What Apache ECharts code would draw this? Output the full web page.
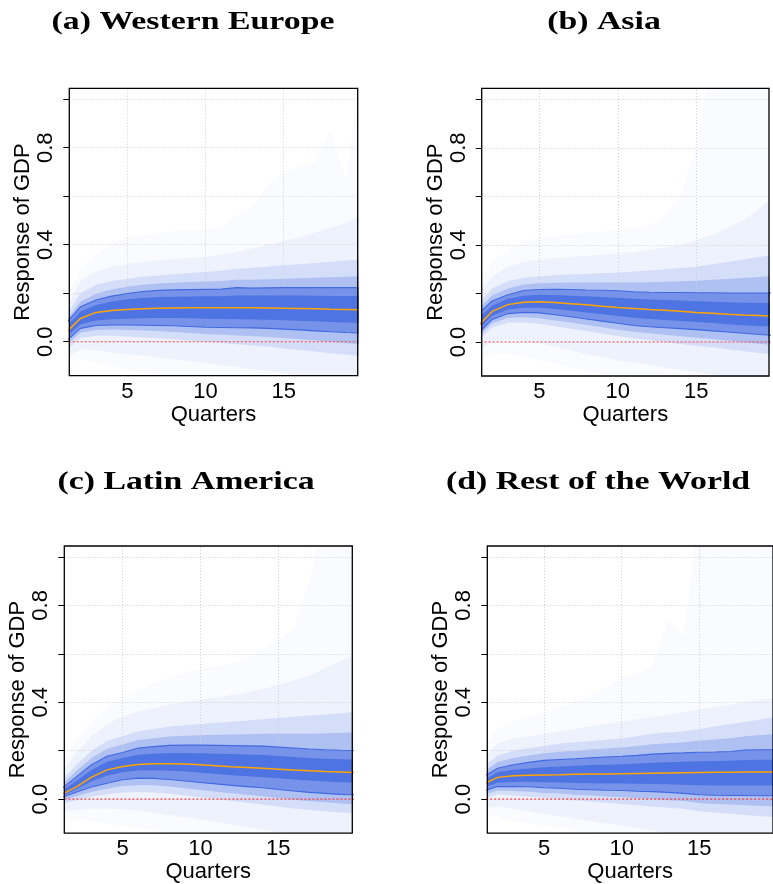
<!DOCTYPE html>
<html><head><meta charset="utf-8">
<script src="https://cdn.jsdelivr.net/npm/echarts@6/dist/echarts.min.js"></script>
<style>html,body{margin:0;padding:0;background:#fff}#c{width:773px;height:884px}</style>
</head><body><div id="c"></div>
<script>
const QUARTERS = [1,2,3,4,5,6,7,8,9,10,11,12,13,14,15,16,17,18,19,20];
const TITLES = ['(a) Western Europe','(b) Asia','(c) Latin America','(d) Rest of the World'];
const X_TICKS = [5,10,15];
const Y_LABELS = [0.0,0.4,0.8];
const Y_TICKS = [0.0,0.2,0.4,0.6,0.8,1.0];
const ZERO = [0,0,0,0,0,0,0,0,0,0,0,0,0,0,0,0,0,0,0,0];

// Western Europe
const A_med = [0.033,0.096,0.121,0.129,0.133,0.136,0.138,0.139,0.140,0.140,0.140,0.140,0.140,0.139,0.138,0.137,0.136,0.134,0.133,0.132];
const A_hi  = [0.070,0.144,0.172,0.188,0.199,0.207,0.212,0.214,0.215,0.216,0.217,0.223,0.221,0.222,0.223,0.223,0.223,0.223,0.223,0.223];
const A_lo  = [-0.003,0.055,0.067,0.069,0.069,0.068,0.067,0.066,0.063,0.060,0.059,0.058,0.057,0.055,0.052,0.049,0.045,0.041,0.038,0.036];
const A_u5  = [0.055,0.125,0.152,0.166,0.175,0.180,0.184,0.186,0.187,0.188,0.188,0.191,0.191,0.191,0.191,0.191,0.190,0.189,0.189,0.189];
const A_l5  = [0.014,0.072,0.088,0.093,0.095,0.097,0.098,0.098,0.097,0.095,0.094,0.093,0.092,0.091,0.089,0.087,0.084,0.081,0.079,0.077];
const A_u4  = [0.08,0.165,0.198,0.215,0.227,0.235,0.24,0.243,0.246,0.248,0.25,0.256,0.256,0.258,0.26,0.262,0.264,0.266,0.268,0.27];
const A_u3  = [0.10,0.20,0.235,0.25,0.26,0.268,0.273,0.278,0.283,0.288,0.293,0.30,0.305,0.31,0.315,0.32,0.325,0.33,0.335,0.34];
const A_u2  = [0.13,0.25,0.29,0.31,0.32,0.33,0.335,0.34,0.345,0.35,0.36,0.37,0.385,0.40,0.415,0.43,0.45,0.47,0.49,0.52];
const A_u1  = [0.16,0.30,0.36,0.40,0.43,0.44,0.45,0.455,0.46,0.465,0.47,0.52,0.55,0.65,0.70,0.72,0.74,0.87,0.66,1.2];
const A_l4  = [-0.02,0.037,0.048,0.05,0.048,0.046,0.043,0.04,0.036,0.032,0.029,0.026,0.023,0.02,0.015,0.01,0.005,0.0,-0.006,-0.01];
const A_l3  = [-0.04,0.015,0.025,0.025,0.022,0.018,0.014,0.01,0.005,0.0,-0.005,-0.01,-0.015,-0.02,-0.028,-0.034,-0.04,-0.047,-0.053,-0.06];
const A_l2  = [-0.07,-0.03,-0.035,-0.045,-0.052,-0.058,-0.065,-0.072,-0.08,-0.088,-0.096,-0.104,-0.112,-0.12,-0.13,-0.14,-0.15,-0.16,-0.17,-0.18];
const A_l1  = [-0.10,-0.07,-0.085,-0.10,-0.115,-0.125,-0.135,-0.145,-0.155,-0.165,-0.175,-0.185,-0.195,-0.205,-0.215,-0.225,-0.235,-0.245,-0.255,-0.265];

// Asia
const B_med = [0.060,0.126,0.154,0.164,0.166,0.163,0.158,0.153,0.147,0.142,0.138,0.134,0.131,0.127,0.122,0.118,0.114,0.111,0.109,0.107];
const B_hi  = [0.110,0.169,0.195,0.212,0.216,0.217,0.216,0.214,0.213,0.211,0.207,0.205,0.204,0.204,0.203,0.203,0.202,0.202,0.202,0.202];
const B_lo  = [0.030,0.093,0.117,0.122,0.120,0.112,0.104,0.095,0.086,0.077,0.068,0.063,0.059,0.055,0.051,0.046,0.041,0.036,0.031,0.027];
const B_u5  = [0.090,0.150,0.178,0.191,0.195,0.194,0.191,0.188,0.185,0.182,0.178,0.175,0.173,0.171,0.168,0.166,0.164,0.162,0.161,0.160];
const B_l5  = [0.045,0.108,0.134,0.141,0.141,0.136,0.129,0.122,0.114,0.107,0.100,0.095,0.091,0.087,0.082,0.078,0.073,0.069,0.066,0.063];
const B_u4  = [0.13,0.192,0.22,0.237,0.242,0.244,0.245,0.245,0.246,0.246,0.245,0.246,0.248,0.25,0.252,0.256,0.26,0.264,0.268,0.272];
const B_u3  = [0.15,0.22,0.25,0.265,0.27,0.275,0.278,0.28,0.283,0.286,0.29,0.295,0.30,0.305,0.31,0.32,0.33,0.34,0.35,0.36];
const B_u2  = [0.19,0.27,0.31,0.33,0.34,0.345,0.35,0.355,0.36,0.365,0.37,0.38,0.39,0.40,0.42,0.44,0.47,0.50,0.55,0.60];
const B_u1  = [0.23,0.33,0.38,0.41,0.43,0.44,0.445,0.45,0.455,0.46,0.47,0.48,0.52,0.60,0.80,1.2,1.2,1.2,1.2,1.2];
const B_l4  = [0.015,0.077,0.099,0.102,0.098,0.089,0.08,0.07,0.061,0.051,0.042,0.036,0.03,0.024,0.018,0.012,0.006,-0.001,-0.007,-0.013];
const B_l3  = [0.0,0.06,0.08,0.08,0.075,0.065,0.055,0.045,0.035,0.025,0.015,0.008,0.0,-0.008,-0.015,-0.022,-0.03,-0.038,-0.045,-0.052];
const B_l2  = [-0.04,0.0,0.01,0.005,-0.005,-0.02,-0.035,-0.05,-0.062,-0.075,-0.085,-0.095,-0.105,-0.115,-0.125,-0.135,-0.145,-0.155,-0.165,-0.175];
const B_l1  = [-0.08,-0.05,-0.05,-0.06,-0.075,-0.09,-0.105,-0.12,-0.135,-0.15,-0.16,-0.17,-0.18,-0.19,-0.2,-0.21,-0.22,-0.23,-0.24,-0.25];

// Latin America
const C_med = [0.017,0.050,0.091,0.121,0.135,0.143,0.146,0.146,0.145,0.142,0.138,0.134,0.131,0.128,0.124,0.120,0.117,0.114,0.112,0.110];
const C_hi  = [0.039,0.091,0.142,0.177,0.193,0.211,0.217,0.222,0.223,0.223,0.222,0.221,0.220,0.219,0.215,0.211,0.207,0.204,0.202,0.201];
const C_lo  = [0.005,0.029,0.050,0.066,0.080,0.087,0.086,0.081,0.075,0.069,0.063,0.057,0.052,0.047,0.040,0.034,0.028,0.024,0.020,0.018];
const C_u5  = [0.030,0.074,0.120,0.154,0.170,0.183,0.188,0.191,0.191,0.190,0.188,0.186,0.184,0.182,0.178,0.174,0.170,0.167,0.165,0.164];
const C_l5  = [0.010,0.040,0.074,0.097,0.111,0.118,0.119,0.117,0.114,0.109,0.104,0.099,0.095,0.091,0.086,0.081,0.077,0.073,0.070,0.068];
const C_u4  = [0.055,0.115,0.17,0.208,0.226,0.244,0.252,0.259,0.262,0.264,0.266,0.267,0.268,0.27,0.27,0.27,0.27,0.272,0.274,0.276];
const C_u3  = [0.07,0.14,0.20,0.24,0.26,0.28,0.29,0.30,0.305,0.31,0.315,0.32,0.325,0.33,0.335,0.34,0.345,0.35,0.355,0.36];
const C_u2  = [0.10,0.19,0.26,0.31,0.34,0.36,0.375,0.39,0.40,0.41,0.42,0.43,0.44,0.455,0.47,0.49,0.51,0.54,0.57,0.60];
const C_u1  = [0.13,0.24,0.32,0.38,0.42,0.45,0.48,0.50,0.52,0.54,0.55,0.56,0.58,0.62,0.66,0.70,0.90,1.2,1.2,1.2];
const C_l4  = [-0.008,0.012,0.03,0.043,0.054,0.058,0.057,0.052,0.045,0.038,0.031,0.024,0.018,0.012,0.005,-0.002,-0.009,-0.013,-0.018,-0.021];
const C_l3  = [-0.02,-0.005,0.01,0.02,0.028,0.03,0.028,0.022,0.015,0.008,0.0,-0.008,-0.015,-0.022,-0.03,-0.038,-0.045,-0.05,-0.055,-0.06];
const C_l2  = [-0.05,-0.045,-0.04,-0.04,-0.042,-0.048,-0.055,-0.065,-0.075,-0.085,-0.095,-0.105,-0.115,-0.125,-0.135,-0.145,-0.155,-0.165,-0.17,-0.175];
const C_l1  = [-0.08,-0.085,-0.09,-0.10,-0.11,-0.12,-0.13,-0.14,-0.15,-0.16,-0.17,-0.18,-0.19,-0.2,-0.21,-0.22,-0.23,-0.24,-0.25,-0.26];

// Rest of the World
const D_med = [0.060,0.090,0.097,0.099,0.100,0.101,0.103,0.104,0.104,0.105,0.106,0.107,0.108,0.109,0.110,0.111,0.111,0.112,0.112,0.112];
const D_hi  = [0.090,0.128,0.142,0.152,0.160,0.164,0.167,0.171,0.174,0.177,0.181,0.186,0.189,0.191,0.194,0.195,0.197,0.203,0.204,0.204];
const D_lo  = [0.033,0.052,0.052,0.051,0.047,0.045,0.041,0.039,0.037,0.036,0.033,0.031,0.028,0.024,0.018,0.016,0.015,0.015,0.014,0.014];
const D_u5  = [0.075,0.111,0.121,0.127,0.132,0.135,0.138,0.141,0.142,0.144,0.147,0.150,0.152,0.154,0.157,0.158,0.159,0.162,0.163,0.163];
const D_l5  = [0.045,0.068,0.071,0.072,0.070,0.069,0.067,0.066,0.065,0.065,0.064,0.063,0.062,0.060,0.057,0.056,0.056,0.056,0.056,0.056];
const D_u4  = [0.11,0.153,0.17,0.18,0.19,0.196,0.2,0.205,0.209,0.213,0.22,0.227,0.231,0.235,0.241,0.246,0.252,0.26,0.265,0.27];
const D_u3  = [0.13,0.18,0.20,0.21,0.22,0.23,0.235,0.24,0.245,0.25,0.26,0.27,0.275,0.28,0.29,0.30,0.31,0.32,0.33,0.34];
const D_u2  = [0.17,0.23,0.25,0.26,0.27,0.28,0.29,0.30,0.31,0.32,0.33,0.34,0.35,0.36,0.37,0.38,0.39,0.40,0.41,0.42];
const D_u1  = [0.21,0.29,0.32,0.34,0.36,0.38,0.40,0.43,0.46,0.50,0.52,0.55,0.74,0.67,1.2,1.2,1.2,1.2,1.2,1.2];
const D_l4  = [0.017,0.036,0.034,0.031,0.026,0.023,0.018,0.015,0.011,0.008,0.004,0.0,-0.004,-0.008,-0.016,-0.02,-0.022,-0.025,-0.028,-0.03];
const D_l3  = [0.0,0.02,0.015,0.01,0.005,0.0,-0.005,-0.01,-0.015,-0.02,-0.025,-0.03,-0.035,-0.04,-0.05,-0.055,-0.06,-0.065,-0.07,-0.075];
const D_l2  = [-0.04,-0.03,-0.04,-0.05,-0.06,-0.07,-0.08,-0.09,-0.10,-0.11,-0.12,-0.13,-0.14,-0.15,-0.16,-0.17,-0.18,-0.19,-0.2,-0.21];
const D_l1  = [-0.07,-0.07,-0.09,-0.10,-0.11,-0.12,-0.13,-0.14,-0.15,-0.16,-0.17,-0.18,-0.19,-0.2,-0.21,-0.22,-0.23,-0.24,-0.25,-0.26];

const PANELS = [
  {med:A_med,hi:A_hi,lo:A_lo,u5:A_u5,l5:A_l5,u4:A_u4,u3:A_u3,u2:A_u2,u1:A_u1,l4:A_l4,l3:A_l3,l2:A_l2,l1:A_l1},
  {med:B_med,hi:B_hi,lo:B_lo,u5:B_u5,l5:B_l5,u4:B_u4,u3:B_u3,u2:B_u2,u1:B_u1,l4:B_l4,l3:B_l3,l2:B_l2,l1:B_l1},
  {med:C_med,hi:C_hi,lo:C_lo,u5:C_u5,l5:C_l5,u4:C_u4,u3:C_u3,u2:C_u2,u1:C_u1,l4:C_l4,l3:C_l3,l2:C_l2,l1:C_l1},
  {med:D_med,hi:D_hi,lo:D_lo,u5:D_u5,l5:D_l5,u4:D_u4,u3:D_u3,u2:D_u2,u1:D_u1,l4:D_l4,l3:D_l3,l2:D_l2,l1:D_l1}
];

// layout (pixels) and axis extents
const GRIDS = [
  {left:69.3, top:88.3, width:288.4, height:287.4, xmin:1.29, xmax:19.73},
  {left:481.7, top:88.3, width:287.3, height:287.7, xmin:1.33, xmax:19.63},
  {left:64.3, top:546, width:288, height:287.3, xmin:1.25, xmax:19.76},
  {left:487.3, top:546, width:288, height:288, xmin:1.33, xmax:19.76}
];
const TITLE_POS = [[193,22],[604,22],[186,482],[598,482]];

function tint(a){
  return 'rgb(' + Math.round(255-a*(255-65)) + ',' + Math.round(255-a*(255-105)) + ',' + Math.round(255-a*(255-225)) + ')';
}
const C1 = tint(0.03), C2 = tint(0.09), C3 = tint(0.22), C4 = tint(0.42), C5 = tint(0.72), C6 = tint(0.93);

const pts = arr => QUARTERS.map((q,k) => [q, arr[k]]);
const axisFont = {fontFamily:'Liberation Sans', fontSize:22, color:'#000'};

const grid = [], xAxis = [], yAxis = [], series = [];
GRIDS.forEach((g,i) => {
  grid.push({left:g.left, top:g.top, width:g.width, height:g.height, show:true, borderColor:'#000', borderWidth:1.3, backgroundColor:'transparent', z:30});
  xAxis.push({type:'value', gridIndex:i, min:g.xmin, max:g.xmax,
    name:'Quarters', nameLocation:'middle', nameGap:24, nameTextStyle:axisFont,
    axisLine:{show:false}, splitLine:{show:false},
    axisTick:{show:true, customValues:X_TICKS, length:5, lineStyle:{color:'#000', width:1}},
    axisLabel:{customValues:X_TICKS, margin:5, ...axisFont}});
  yAxis.push({type:'value', gridIndex:i, min:-0.14, max:1.045,
    name:'Response of GDP', nameLocation:'middle', nameRotate:90, nameGap:31, nameTextStyle:axisFont,
    axisLine:{show:false}, splitLine:{show:false},
    axisTick:{show:true, customValues:Y_TICKS, length:6, lineStyle:{color:'#000', width:1}},
    axisLabel:{customValues:Y_LABELS, rotate:90, margin:12, formatter:v => Number(v).toFixed(1), ...axisFont}});
  const p = PANELS[i];
  const layers = [[p.u1,C1],[p.u2,C2],[p.u3,C3],[p.u4,C4],[p.hi,C5],[p.u5,C6],[p.l5,C5],[p.lo,C4],[p.l4,C3],[p.l3,C2],[p.l2,C1],[p.l1,'#ffffff']];
  layers.forEach((L,k) => {
    series.push({type:'line', xAxisIndex:i, yAxisIndex:i, data:pts(L[0]), symbol:'none', silent:true,
      lineStyle:{width:0, opacity:0}, areaStyle:{color:L[1], opacity:1, origin:'start'}, z:1+k, clip:true, animation:false});
  });
  const gl = {type:[1,2], color:'#d0d0d0', width:1};
  series.push({type:'line', xAxisIndex:i, yAxisIndex:i, data:pts(p.med), symbol:'none', silent:true,
    lineStyle:{width:0, opacity:0}, z:15, animation:false,
    markLine:{silent:true, symbol:['none','none'], label:{show:false}, animation:false,
      data:[...X_TICKS.map(v => ({xAxis:v, lineStyle:gl})), ...Y_TICKS.slice(1).map(v => ({yAxis:v, lineStyle:gl}))]}});
  series.push({type:'line', xAxisIndex:i, yAxisIndex:i, data:pts(ZERO), symbol:'none', silent:true,
    lineStyle:{type:[2,2], color:'#ff3b3b', width:1.2}, z:16, animation:false});
  [p.hi, p.lo].forEach(arr => series.push({type:'line', xAxisIndex:i, yAxisIndex:i, data:pts(arr), symbol:'none', silent:true,
    lineStyle:{color:'#4169E1', width:1.1}, z:20, animation:false}));
  series.push({type:'line', xAxisIndex:i, yAxisIndex:i, data:pts(p.med), symbol:'none', silent:true,
    lineStyle:{color:'#FFA500', width:1.5}, z:21, animation:false});
});

const graphic = TITLES.map((t,i) => ({type:'text', x:TITLE_POS[i][0], y:TITLE_POS[i][1], scaleX:1.3, silent:true,
  style:{text:t, font:'bold 26px "Liberation Serif"', textAlign:'center', textVerticalAlign:'middle', fill:'#000'}}));

const chart = echarts.init(document.getElementById('c'), null, {renderer:'canvas'});
chart.setOption({animation:false, backgroundColor:'#fff', grid, xAxis, yAxis, series, graphic});
</script></body></html>
